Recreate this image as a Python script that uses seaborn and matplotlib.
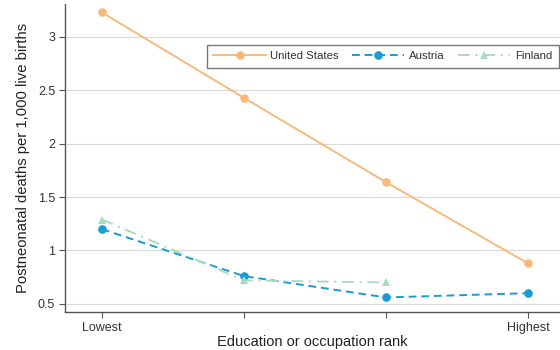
import matplotlib
matplotlib.use("Agg")
import matplotlib.pyplot as plt
import seaborn as sns
import pandas as pd
import numpy as np

ranks = ["Lowest", "", "", "Highest"]
rank_pos = [0, 1, 2, 3]
us = [3.23, 2.43, 1.64, 0.88]
austria = [1.20, 0.76, 0.56, 0.60]
finland = [1.29, 0.72, 0.70, np.nan]

countries = ["United States", "Austria", "Finland"]
colors = {"United States": "#F8B97C", "Austria": "#1A9AD6", "Finland": "#A9DBBE"}

rows = []
for name, vals in zip(countries, [us, austria, finland]):
    for p, v in zip(rank_pos, vals):
        if not np.isnan(v):
            rows.append({"rank": p, "deaths": v, "country": name})
df = pd.DataFrame(rows)

sns.set_style("white")
plt.rcParams["font.family"] = ["Liberation Sans", "DejaVu Sans"]

fig = plt.figure(figsize=(5.6, 3.5), dpi=100)
ax = fig.add_axes([0.116, 0.109, 0.884, 0.88])

sns.lineplot(
    data=df, x="rank", y="deaths", hue="country", style="country",
    hue_order=countries, style_order=countries, palette=colors,
    markers={"United States": "o", "Austria": "o", "Finland": "^"},
    dashes={"United States": "", "Austria": (4, 2.5), "Finland": (6, 3, 1, 3)},
    markersize=6.2, markeredgewidth=0, linewidth=1.4, ax=ax,
)

ax.set_xlim(-0.26, 3.226)
ax.set_ylim(0.425, 3.31)
ax.set_yticks([0.5, 1, 1.5, 2, 2.5, 3])
ax.set_yticklabels(["0.5", "1", "1.5", "2", "2.5", "3"])
ax.set_xticks(rank_pos)
ax.set_xticklabels(ranks)
ax.yaxis.grid(True, color="#DADADA", linewidth=0.9)
ax.set_axisbelow(True)
for s in ["top", "right"]:
    ax.spines[s].set_visible(False)
for s in ["left", "bottom"]:
    ax.spines[s].set_color("#555555")
    ax.spines[s].set_linewidth(1.0)
ax.tick_params(axis="both", which="major", length=4, width=0.8, color="#555555",
               labelsize=9, labelcolor="#333333", left=True, bottom=True, pad=3)

ax.set_xlabel("Education or occupation rank", fontsize=10.5, color="#222222", labelpad=1)
ax.set_ylabel("Postneonatal deaths per 1,000 live births", fontsize=10.7, color="#222222", labelpad=6)

leg = ax.legend(loc="upper left", bbox_to_anchor=(0.286, 0.868), ncol=3,
                frameon=True, fancybox=False, handlelength=4.6, columnspacing=1.15,
                handletextpad=0.4, fontsize=8.2, borderpad=0.6, borderaxespad=0,
                title=None)
leg.get_frame().set_edgecolor("#555555")
leg.get_frame().set_linewidth(1.0)
for t in leg.get_texts():
    t.set_color("#333333")

fig.savefig("out.png", dpi=100)
